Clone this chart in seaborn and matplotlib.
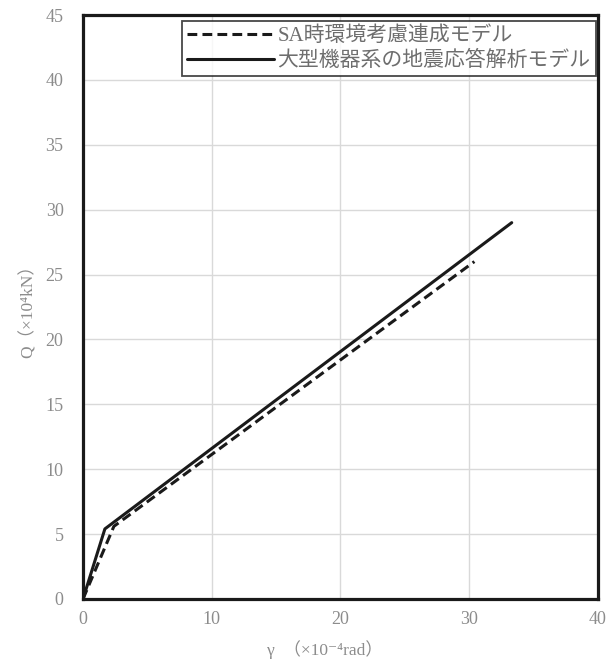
import pandas as pd
import matplotlib.pyplot as plt
import seaborn as sns

# shear strain (x1e-4 rad) vs shear force (x1e4 kN)
sa_gamma = [0.0, 2.4, 30.4]
sa_q = [0.0, 5.6, 26.0]
big_gamma = [0.0, 1.7, 33.3]
big_q = [0.0, 5.4, 29.0]

sa_label = "SA時環境考慮連成モデル"
big_label = "大型機器系の地震応答解析モデル"

df = pd.concat([
    pd.DataFrame({"gamma": sa_gamma, "Q": sa_q, "model": sa_label}),
    pd.DataFrame({"gamma": big_gamma, "Q": big_q, "model": big_label}),
])

sns.set_style("white")
plt.rcParams["font.family"] = ["Liberation Serif", "Noto Sans CJK JP", "DejaVu Sans"]

grey = "#8c8c8c"

fig, ax = plt.subplots(figsize=(6.13, 6.62), dpi=100)
fig.subplots_adjust(left=0.1354, right=0.9755, top=0.9773, bottom=0.0952)

sns.lineplot(data=df, x="gamma", y="Q", hue="model", style="model",
             palette=["#1a1a1a", "#1a1a1a"], dashes=[(3.2, 1.7), ""],
             linewidth=2.2, sort=False, estimator=None, ax=ax)

ax.set_xlim(0, 40)
ax.set_ylim(0, 45)
ax.set_xticks(range(0, 41, 10))
ax.set_yticks(range(0, 46, 5))
ax.grid(True, color="#d9d9d9", linewidth=1.0)
ax.set_axisbelow(True)
for s in ax.spines.values():
    s.set_color("#1a1a1a")
    s.set_linewidth(2.3)
ax.tick_params(axis="y", length=0, labelsize=13, colors=grey, pad=14)
ax.tick_params(axis="x", length=0, labelsize=13, colors=grey, pad=9)

ax.set_xlabel("γ  （×10⁻⁴rad）", fontsize=12.5, color=grey)
ax.xaxis.set_label_coords(0.47, -0.07)
ax.set_ylabel("Q（×10⁴kN）", fontsize=12.5, color=grey, labelpad=6)

leg = ax.legend(loc="upper right", fontsize=15, frameon=True, fancybox=False,
                handlelength=4.2, handletextpad=0.15, borderpad=0.25,
                labelspacing=0.25, borderaxespad=0,
                bbox_to_anchor=(0.996, 0.99))
leg.get_frame().set_edgecolor("#1a1a1a")
leg.get_frame().set_linewidth(1.3)
for t in leg.get_texts():
    t.set_color("#6e6e6e")

fig.savefig("out.png", dpi=100)
